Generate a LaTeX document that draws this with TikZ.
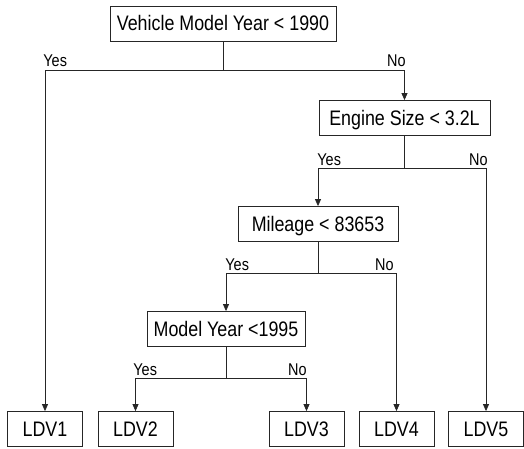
\documentclass[tikz,border=0pt]{standalone}
\usepackage{fontspec}
\setmainfont{Liberation Sans}[FakeStretch=0.85]
\usetikzlibrary{arrows.meta}
\tikzset{>/.tip={Triangle[length=7pt,width=6pt]},
  box/.style={draw, minimum height=35pt, inner xsep=0pt, text height=15pt, text depth=0pt, font=\fontsize{21}{24}\selectfont},
  ans/.style={inner sep=0pt, font=\fontsize{17}{20}\selectfont}}

\begin{document}
\begin{tikzpicture}[x=1pt, y=-1pt, line width=0.8pt, draw=black!85]
\useasboundingbox (0,0) rectangle (524,449);
\node[box, minimum width=226pt] (root)    at (223,23.5) {Vehicle Model Year < 1990};
\node[box, minimum width=171pt] (engine)  at (404.5,118) {Engine Size < 3.2L};
\node[box, minimum width=160pt] (mileage) at (318,224)  {Mileage < 83653};
\node[box, minimum width=158pt] (model)   at (226,329)  {Model Year <1995};
\foreach \i/\x in {1/45,2/135.5,3/306.5,4/396.5,5/486}
{
  \node[box, minimum width=75pt] (ldv\i) at (\x,429) {LDV\i};
}

% split points
\coordinate (s1) at (223,70);
\coordinate (s2) at (404.5,168);
\coordinate (s3) at (318,273);
\coordinate (s4) at (226,378);

\draw[->] (root) -- (s1) -| (ldv1);
\draw[->] (s1) -| (engine);
\draw[->] (engine) -- (s2) -| (mileage);
\draw[->] (s2) -| (ldv5);
\draw[->] (mileage) -- (s3) -| (model);
\draw[->] (s3) -| (ldv4);
\draw[->] (model) -- (s4) -| (ldv2);
\draw[->] (s4) -| (ldv3);

\node[ans, anchor=base west] (y1) at (43,67)   {Yes};
\node[ans, anchor=base east] (n1) at (406,67)  {No};
\node[ans, anchor=base west] (y2) at (317,165) {Yes};
\node[ans, anchor=base east] (n2) at (488,165) {No};
\node[ans, anchor=base west] (y3) at (225,270) {Yes};
\node[ans, anchor=base east] (n3) at (394,270) {No};
\node[ans, anchor=base west] (y4) at (133,375) {Yes};
\node[ans, anchor=base east] (n4) at (307,375) {No};
\end{tikzpicture}
\end{document}
